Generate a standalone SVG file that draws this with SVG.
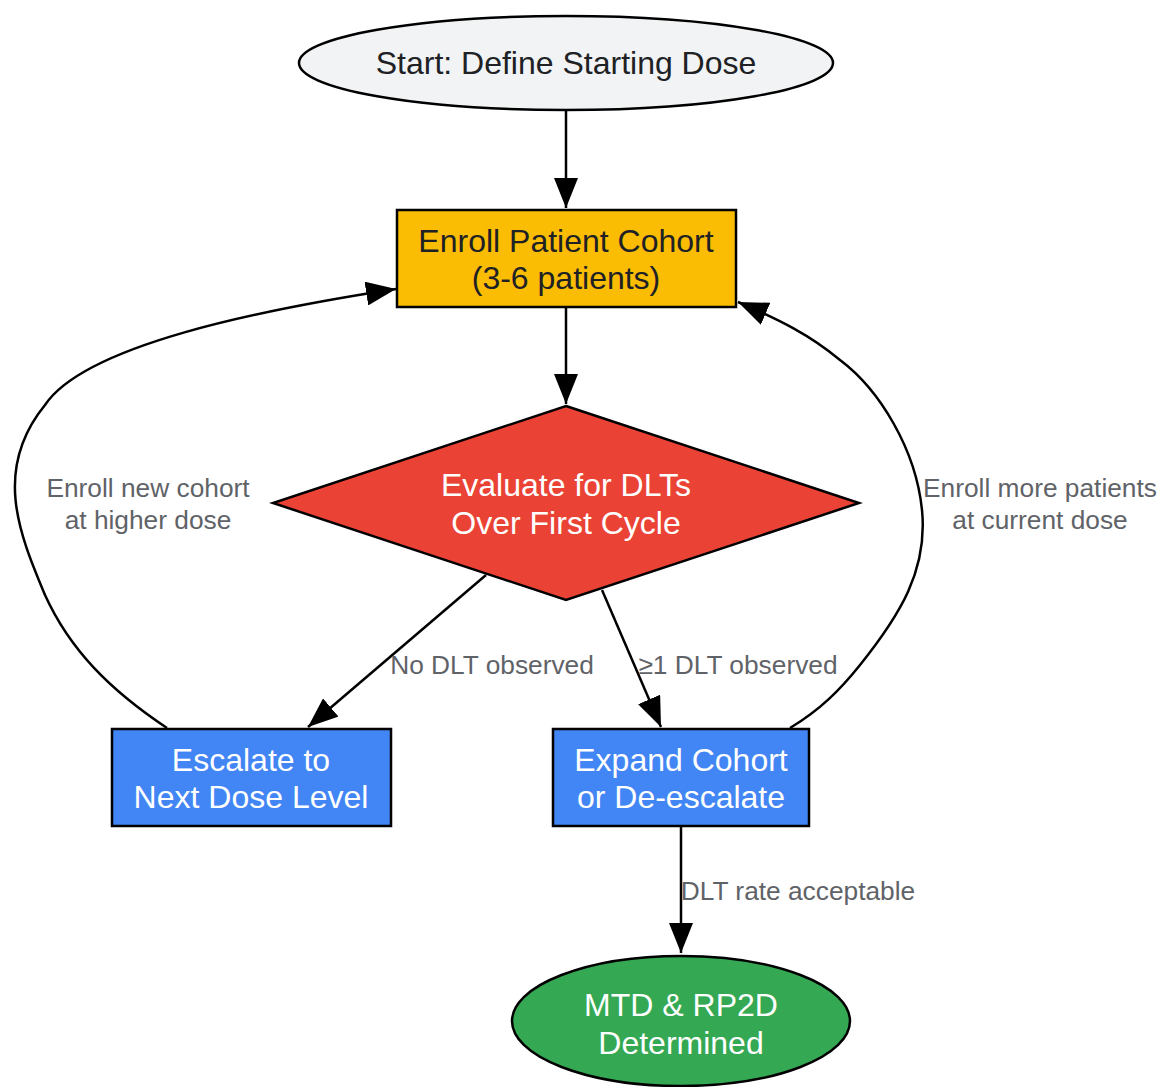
<svg xmlns="http://www.w3.org/2000/svg" width="1162" height="1087" viewBox="0 0 1162 1087">
<style>
.n{stroke:#000;stroke-width:2.5}
.t{font-family:"Liberation Sans",Arial,sans-serif;font-size:32px;text-anchor:middle}
.dk{fill:#202124}
.wh{fill:#ffffff}
.lbl{font-family:"Liberation Sans",Arial,sans-serif;font-size:26.3px;fill:#5f6368;text-anchor:middle}
.e{fill:none;stroke:#000;stroke-width:2.5}
</style>
<defs>
<marker id="ah" markerUnits="userSpaceOnUse" markerWidth="30" markerHeight="24" refX="30" refY="12" orient="auto">
<path d="M0,0 L30,12 L0,24 z" fill="#000"/>
</marker>
</defs>
<rect width="1162" height="1087" fill="#ffffff"/>
<g id="edges">
<path class="e" d="M566,111 L566,208" marker-end="url(#ah)"/>
<path class="e" d="M566,307 L566,404" marker-end="url(#ah)"/>
<path class="e" d="M486,575 L308,727" marker-end="url(#ah)"/>
<path class="e" d="M602,590 L661,727" marker-end="url(#ah)"/>
<path class="e" d="M167,728 C110,690 70,650 45,595 C20,535 -8,470 45,405 C85,345 260,310 396,289" marker-end="url(#ah)"/>
<path class="e" d="M790,728 C820,710 840,690 860,665 C900,615 928,570 922,510 C916,450 880,390 840,360 C810,335 780,320 738,302" marker-end="url(#ah)"/>
<path class="e" d="M681,826 L681,953" marker-end="url(#ah)"/>
<text class="lbl" x="492" y="674">No DLT observed</text>
<text class="lbl" x="738" y="674">≥1 DLT observed</text>
<text class="lbl" x="148" y="497">Enroll new cohort</text>
<text class="lbl" x="148" y="529">at higher dose</text>
<text class="lbl" x="1040" y="497">Enroll more patients</text>
<text class="lbl" x="1040" y="529">at current dose</text>
<text class="lbl" x="798" y="900">DLT rate acceptable</text>
</g>
<g id="start">
<ellipse class="n" cx="566" cy="63" rx="267" ry="47" fill="#f1f3f4"/>
<text class="t dk" x="566" y="74">Start: Define Starting Dose</text>
</g>
<g id="enroll">
<rect class="n" x="397" y="210" width="339" height="97" fill="#fbbc04"/>
<text class="t dk" x="566" y="252">Enroll Patient Cohort</text>
<text class="t dk" x="566" y="289">(3-6 patients)</text>
</g>
<g id="evaluate">
<polygon class="n" points="566,406 859,503 566,600 273,503" fill="#ea4335"/>
<text class="t wh" x="566" y="496">Evaluate for DLTs</text>
<text class="t wh" x="566" y="534">Over First Cycle</text>
</g>
<g id="escalate">
<rect class="n" x="112" y="729" width="279" height="97" fill="#4285f4"/>
<text class="t wh" x="251" y="771">Escalate to</text>
<text class="t wh" x="251" y="808">Next Dose Level</text>
</g>
<g id="expand">
<rect class="n" x="553" y="729" width="256" height="97" fill="#4285f4"/>
<text class="t wh" x="681" y="771">Expand Cohort</text>
<text class="t wh" x="681" y="808">or De-escalate</text>
</g>
<g id="mtd">
<ellipse class="n" cx="681" cy="1021" rx="169" ry="65" fill="#34a853"/>
<text class="t wh" x="681" y="1016">MTD &amp; RP2D</text>
<text class="t wh" x="681" y="1054">Determined</text>
</g>
</svg>
